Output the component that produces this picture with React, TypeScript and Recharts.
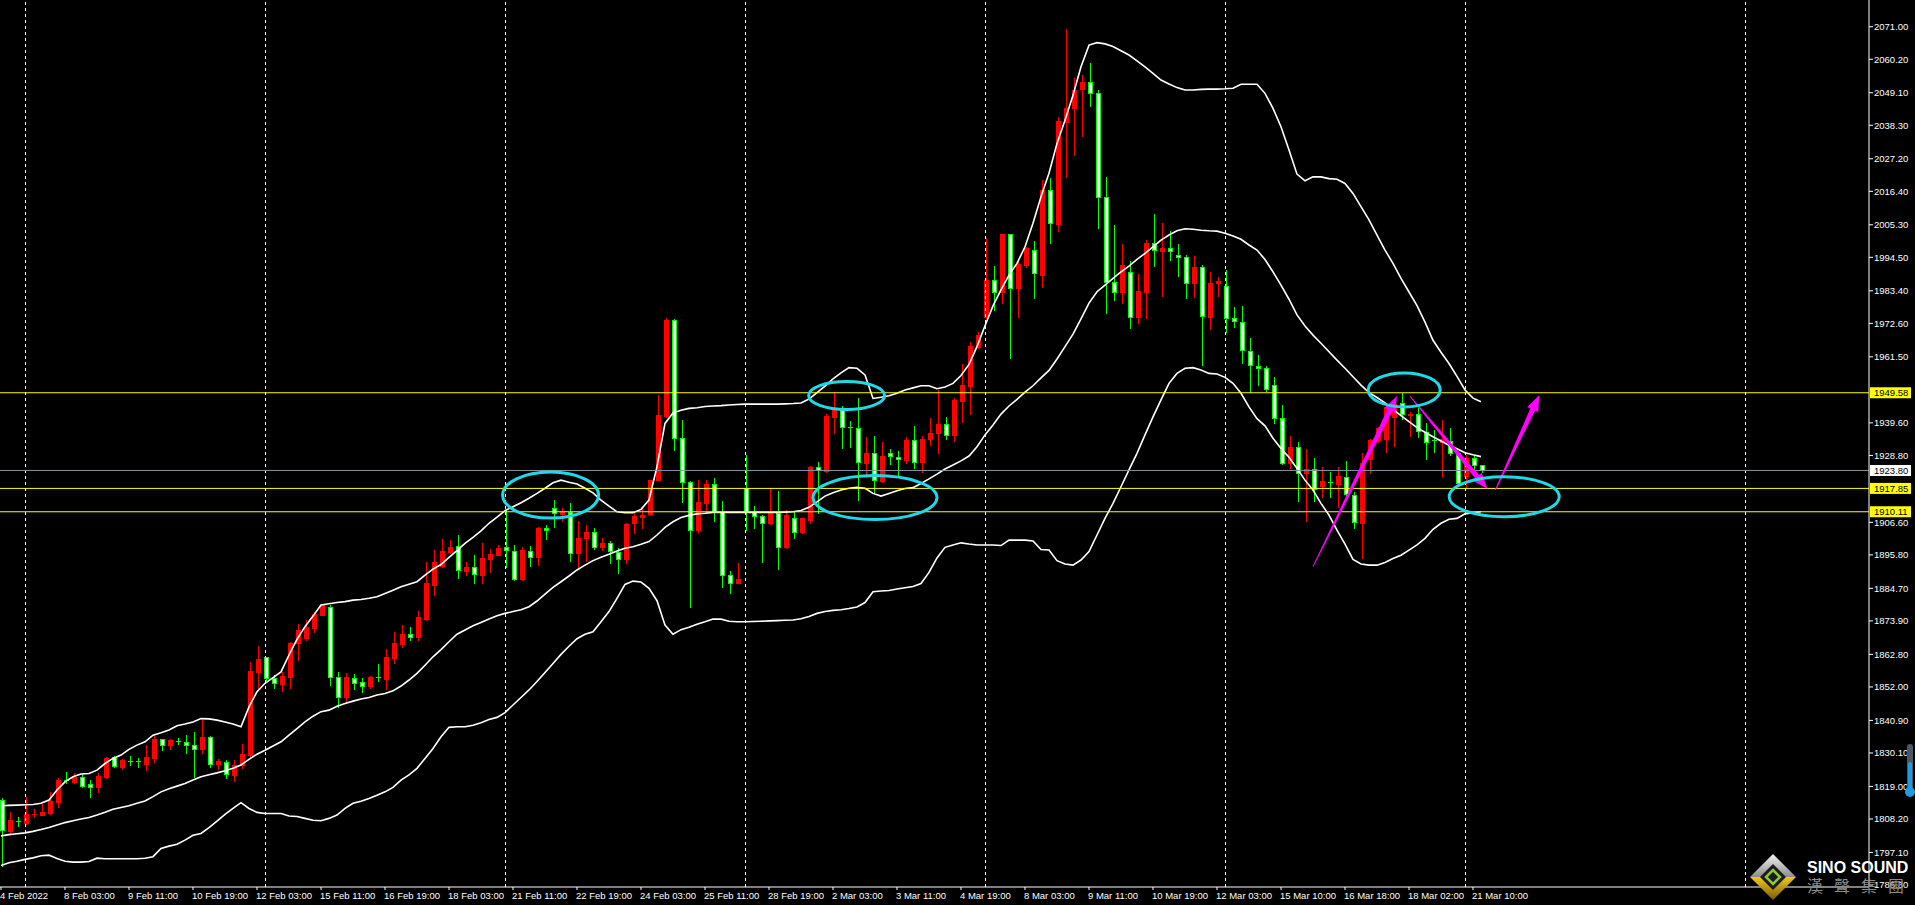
import React from 'react';
import { ComposedChart, Bar, Line, XAxis, YAxis, ReferenceLine, ReferenceDot } from 'recharts';

// H4 XAUUSD, 4 Feb 2022 .. 21 Mar 2022, one entry per bar
const TICK_BARS = [0, 8, 16, 24, 32, 40, 48, 56, 64, 72, 80, 88, 96, 104, 112, 120, 128, 136, 144, 152, 160, 168, 176, 184];
const TICK_LABELS = [
  '4 Feb 2022', '8 Feb 03:00', '9 Feb 11:00', '10 Feb 19:00', '12 Feb 03:00', '15 Feb 11:00',
  '16 Feb 19:00', '18 Feb 03:00', '21 Feb 11:00', '22 Feb 19:00', '24 Feb 03:00', '25 Feb 11:00',
  '28 Feb 19:00', '2 Mar 03:00', '3 Mar 11:00', '4 Mar 19:00', '8 Mar 03:00', '9 Mar 11:00',
  '10 Mar 19:00', '12 Mar 03:00', '15 Mar 10:00', '16 Mar 18:00', '18 Mar 02:00', '21 Mar 10:00',
];

const PRICE_TICKS = [
  2071.0, 2060.2, 2049.1, 2038.3, 2027.2, 2016.4, 2005.3, 1994.5, 1983.4, 1972.6, 1961.5,
  1939.6, 1928.8, 1906.6, 1895.8, 1884.7, 1873.9, 1862.8, 1852.0, 1840.9, 1830.1, 1819.0,
  1808.2, 1797.1, 1786.3,
];

const OPEN = [
  1814.5, 1804.2, 1807.6, 1806.9, 1809.7, 1809.6, 1810.3, 1813.9, 1821.0, 1820.5,
  1822.1, 1819.8, 1818.8, 1822.2, 1828.9, 1825.5, 1827.5, 1827.3, 1826.6, 1828.5,
  1834.6, 1832.7, 1834.1, 1833.9, 1832.9, 1831.3, 1835.5, 1826.4, 1827.0, 1822.9,
  1826.2, 1829.4, 1857.1, 1861.8, 1855.1, 1853.1, 1855.4, 1866.6, 1868.2, 1871.4,
  1875.9, 1878.6, 1855.2, 1848.8, 1855.1, 1853.6, 1852.3, 1855.2, 1854.6, 1861.5,
  1866.2, 1869.7, 1868.7, 1874.7, 1885.9, 1892.2, 1896.9, 1898.8, 1890.5, 1891.7,
  1889.2, 1894.6, 1895.8, 1898.3, 1897.2, 1887.8, 1897.2, 1895.0, 1904.6, 1911.5,
  1909.5, 1910.1, 1896.3, 1901.3, 1903.5, 1898.5, 1899.6, 1896.9, 1894.6, 1906.3,
  1908.5, 1909.2, 1920.8, 1941.9, 1973.7, 1934.5, 1920.1, 1904.0, 1913.1, 1919.2,
  1909.9, 1889.1, 1886.6, 1918.1, 1909.9, 1908.7, 1906.3, 1909.6, 1898.5, 1907.9,
  1903.3, 1907.4, 1924.8, 1923.7, 1941.6, 1943.8, 1938.1, 1937.8, 1926.4, 1929.5,
  1920.3, 1929.5, 1928.4, 1927.3, 1933.9, 1926.7, 1934.1, 1936.1, 1939.2, 1935.6,
  1946.9, 1951.8, 1964.9, 1974.8, 1987.0, 1983.1, 2002.2, 1984.2, 1991.9, 1996.9,
  1988.6, 2016.8, 2005.6, 2039.5, 2044.2, 2050.3, 2052.5, 2048.9, 2014.4, 1986.2,
  1983.1, 1989.7, 1974.6, 1983.1, 1999.1, 1996.7, 1997.7, 1995.2, 1994.5, 1985.9,
  1991.2, 1974.8, 1985.9, 1985.1, 1974.3, 1973.2, 1963.5, 1958.5, 1957.7, 1952.1,
  1941.1, 1926.2, 1931.5, 1922.8, 1924.2, 1918.8, 1920.1, 1919.3, 1921.7, 1915.7,
  1906.3, 1927.5, 1933.9, 1934.2, 1941.4, 1946.3, 1942.2, 1942.7, 1936.7, 1933.8,
  1933.3, 1933.6, 1929.5, 1921.9, 1928.1, 1925.5,
];

const HIGH = [
  1815.0, 1810.4, 1808.7, 1815.6, 1811.4, 1813.2, 1817.1, 1821.7, 1823.8, 1823.3,
  1823.2, 1821.1, 1823.3, 1828.9, 1829.2, 1828.1, 1829.1, 1828.3, 1832.7, 1836.0,
  1834.7, 1834.6, 1835.1, 1836.0, 1837.0, 1841.6, 1835.7, 1828.2, 1827.7, 1827.7,
  1833.0, 1860.4, 1865.7, 1862.0, 1855.9, 1857.0, 1867.0, 1872.9, 1874.2, 1876.9,
  1879.5, 1879.2, 1857.0, 1856.5, 1856.2, 1854.8, 1855.6, 1859.6, 1864.5, 1870.3,
  1872.5, 1871.8, 1877.2, 1893.5, 1897.4, 1901.0, 1900.7, 1902.4, 1893.4, 1895.8,
  1899.6, 1897.6, 1899.1, 1910.7, 1899.1, 1898.5, 1898.7, 1905.2, 1905.7, 1914.0,
  1911.2, 1913.1, 1907.0, 1905.7, 1904.6, 1901.3, 1900.5, 1898.0, 1906.5, 1909.6,
  1911.5, 1920.8, 1948.8, 1974.3, 1973.9, 1940.5, 1920.4, 1920.8, 1920.8, 1921.2,
  1913.8, 1890.6, 1893.2, 1928.9, 1912.0, 1909.0, 1917.9, 1917.1, 1910.7, 1910.1,
  1908.2, 1925.3, 1926.7, 1942.7, 1949.9, 1945.3, 1940.3, 1947.7, 1935.0, 1935.2,
  1933.1, 1930.8, 1930.4, 1935.0, 1938.7, 1935.2, 1941.2, 1950.5, 1941.4, 1947.7,
  1959.1, 1966.5, 1969.8, 2000.8, 1991.6, 2002.4, 2002.4, 1993.6, 1998.0, 1999.9,
  2020.3, 2020.7, 2040.9, 2070.1, 2053.9, 2055.0, 2058.9, 2050.0, 2021.0, 2005.2,
  1998.9, 1993.4, 1989.0, 2000.2, 2008.9, 2006.0, 2003.3, 1998.9, 1995.3, 1994.9,
  1992.0, 1989.5, 1987.9, 1990.3, 1977.9, 1978.4, 1967.6, 1962.1, 1958.4, 1954.9,
  1945.5, 1935.2, 1933.4, 1930.9, 1927.8, 1925.1, 1923.3, 1925.1, 1926.9, 1916.8,
  1929.5, 1934.1, 1938.1, 1946.1, 1947.2, 1949.6, 1943.3, 1944.4, 1939.7, 1937.2,
  1940.5, 1937.8, 1930.0, 1928.9, 1928.6, 1925.6,
];

const LOW = [
  1792.5, 1803.4, 1805.9, 1806.7, 1808.9, 1809.5, 1810.0, 1812.1, 1820.2, 1820.0,
  1818.9, 1815.6, 1817.2, 1821.9, 1825.5, 1824.9, 1826.1, 1825.5, 1824.4, 1827.2,
  1831.1, 1831.5, 1833.0, 1830.2, 1822.0, 1830.0, 1825.5, 1824.7, 1821.9, 1820.9,
  1825.0, 1828.9, 1851.5, 1854.3, 1851.5, 1850.7, 1851.5, 1860.9, 1867.5, 1870.3,
  1875.8, 1852.6, 1845.4, 1847.1, 1851.2, 1850.4, 1851.8, 1853.9, 1851.2, 1859.8,
  1865.3, 1867.6, 1867.6, 1874.2, 1882.5, 1891.9, 1896.5, 1888.3, 1889.1, 1886.6,
  1886.6, 1890.2, 1895.6, 1891.9, 1887.6, 1887.5, 1892.2, 1892.4, 1901.2, 1905.2,
  1907.1, 1893.9, 1891.7, 1893.9, 1897.7, 1897.4, 1893.2, 1889.7, 1893.2, 1902.9,
  1904.6, 1909.0, 1920.6, 1941.6, 1930.6, 1913.4, 1878.4, 1903.5, 1910.7, 1907.1,
  1885.3, 1883.0, 1886.4, 1904.0, 1904.6, 1893.5, 1906.0, 1891.0, 1898.0, 1901.3,
  1902.9, 1906.3, 1909.6, 1923.4, 1936.3, 1931.1, 1931.7, 1914.0, 1921.5, 1916.2,
  1920.1, 1926.1, 1921.7, 1926.4, 1924.5, 1923.4, 1932.2, 1929.7, 1934.1, 1933.7,
  1940.0, 1942.5, 1964.3, 1974.5, 1977.0, 1979.2, 1961.0, 1974.8, 1991.2, 1980.9,
  1984.8, 1999.1, 2003.3, 2021.0, 2028.4, 2034.7, 2044.8, 2004.1, 1975.9, 1980.3,
  1979.5, 1970.9, 1972.8, 1974.3, 1991.6, 1981.7, 1993.6, 1988.3, 1980.9, 1981.4,
  1958.8, 1970.6, 1981.7, 1969.8, 1971.3, 1959.5, 1949.9, 1952.1, 1950.2, 1939.7,
  1925.9, 1924.5, 1913.8, 1907.0, 1913.8, 1915.1, 1915.1, 1911.8, 1914.9, 1904.6,
  1894.9, 1923.1, 1933.3, 1930.0, 1931.9, 1940.8, 1935.2, 1935.0, 1927.5, 1930.0,
  1922.1, 1928.9, 1919.3, 1917.9, 1923.4, 1923.4,
];

const CLOSE = [
  1804.5, 1807.8, 1807.4, 1809.8, 1810.0, 1810.5, 1814.2, 1821.1, 1820.8, 1822.2,
  1819.3, 1818.9, 1822.4, 1828.3, 1825.9, 1827.8, 1827.3, 1827.1, 1828.9, 1834.6,
  1832.7, 1834.4, 1833.9, 1832.9, 1831.3, 1835.5, 1826.6, 1827.3, 1823.1, 1826.1,
  1829.7, 1857.3, 1861.3, 1854.8, 1853.2, 1855.6, 1866.6, 1871.0, 1871.8, 1876.2,
  1879.2, 1855.2, 1848.8, 1855.2, 1853.4, 1852.4, 1855.2, 1855.0, 1861.8, 1866.6,
  1869.5, 1868.7, 1875.1, 1886.5, 1893.4, 1897.1, 1898.5, 1890.7, 1891.8, 1889.3,
  1894.9, 1896.1, 1898.2, 1897.4, 1887.8, 1897.4, 1895.0, 1904.6, 1904.0, 1909.6,
  1910.1, 1896.3, 1901.3, 1903.5, 1898.3, 1899.6, 1897.1, 1894.6, 1906.0, 1908.7,
  1908.9, 1920.6, 1942.2, 1973.7, 1934.5, 1920.1, 1904.0, 1913.4, 1919.3, 1910.3,
  1889.1, 1886.6, 1887.8, 1909.9, 1908.7, 1906.3, 1909.6, 1898.5, 1909.0, 1903.3,
  1907.9, 1924.8, 1923.9, 1941.9, 1943.8, 1938.1, 1937.9, 1926.5, 1929.5, 1920.6,
  1928.6, 1928.6, 1927.5, 1933.9, 1926.7, 1934.1, 1936.1, 1939.2, 1935.6, 1947.2,
  1952.1, 1965.1, 1968.7, 1987.0, 1983.1, 2002.2, 1984.2, 1992.3, 1997.7, 1989.2,
  2016.8, 2005.8, 2039.7, 2044.2, 2050.0, 2052.6, 2048.9, 2014.4, 1986.4, 1983.1,
  1991.9, 1974.6, 1983.3, 1999.1, 1996.9, 1997.5, 1996.6, 1994.5, 1985.9, 1991.2,
  1975.0, 1985.9, 1986.6, 1974.3, 1973.4, 1963.8, 1958.8, 1957.7, 1950.7, 1941.1,
  1926.2, 1931.5, 1922.8, 1924.2, 1917.6, 1920.3, 1919.5, 1922.0, 1916.0, 1906.6,
  1926.2, 1933.9, 1937.8, 1945.0, 1945.9, 1942.5, 1942.7, 1936.9, 1933.3, 1933.6,
  1934.1, 1929.5, 1919.5, 1928.1, 1925.6, 1923.8,
];

// Bollinger bands
const BB_UPPER = [
  1812.6, 1812.7, 1812.8, 1812.9, 1813.0, 1813.4, 1814.5, 1817.8, 1820.5, 1822.2,
  1823.1, 1823.3, 1824.4, 1826.6, 1828.3, 1829.4, 1831.3, 1832.7, 1833.8, 1836.0,
  1836.8, 1837.7, 1839.1, 1839.7, 1840.4, 1841.5, 1841.4, 1841.0, 1840.4, 1839.7,
  1838.8, 1845.4, 1850.4, 1853.2, 1855.1, 1857.0, 1862.6, 1867.8, 1872.0, 1875.5,
  1879.2, 1879.6, 1880.0, 1880.3, 1880.8, 1881.0, 1881.4, 1881.9, 1883.0, 1884.1,
  1885.2, 1886.1, 1886.9, 1889.1, 1891.1, 1892.6, 1895.0, 1897.2, 1899.6, 1901.6,
  1903.8, 1906.3, 1908.3, 1910.5, 1911.8, 1913.1, 1914.6, 1916.2, 1917.9, 1919.7,
  1920.6, 1919.9, 1919.3, 1917.9, 1916.4, 1914.0, 1912.0, 1910.1, 1909.8, 1909.8,
  1910.9, 1914.0, 1925.1, 1939.4, 1942.9, 1943.8, 1944.4, 1944.6, 1945.0, 1945.2,
  1945.3, 1945.5, 1945.7, 1945.8, 1945.8, 1945.8, 1945.8, 1945.8, 1945.9, 1946.0,
  1946.2, 1947.5, 1949.6, 1951.8, 1954.2, 1956.2, 1957.9, 1957.7, 1955.5, 1947.7,
  1948.1, 1948.6, 1949.4, 1950.5, 1951.2, 1951.9, 1951.9, 1950.9, 1951.5, 1952.7,
  1955.3, 1959.0, 1964.9, 1971.8, 1978.4, 1983.7, 1988.6, 1992.5, 1998.0, 2005.8,
  2014.6, 2022.4, 2032.3, 2040.0, 2048.3, 2057.7, 2064.9, 2065.7, 2065.3, 2064.4,
  2063.0, 2061.6, 2059.7, 2057.7, 2055.5, 2053.3, 2052.0, 2050.8, 2050.0, 2050.0,
  2050.2, 2050.3, 2050.3, 2050.4, 2050.6, 2051.9, 2051.9, 2051.9, 2048.9, 2043.9,
  2037.8, 2030.1, 2022.1, 2019.9, 2021.2, 2021.2, 2020.6, 2020.4, 2019.0, 2015.7,
  2011.3, 2006.9, 2001.9, 1996.9, 1992.5, 1987.5, 1983.0, 1978.5, 1973.0, 1967.0,
  1963.0, 1959.3, 1955.0, 1950.5, 1947.8, 1946.6,
];

const BB_MIDDLE = [
  1802.6, 1803.0, 1803.3, 1803.6, 1804.1, 1804.7, 1805.4, 1806.2, 1807.0, 1807.6,
  1808.2, 1808.7, 1809.5, 1810.4, 1811.4, 1812.0, 1812.6, 1813.4, 1814.2, 1815.6,
  1817.2, 1818.2, 1819.1, 1820.0, 1821.1, 1822.2, 1822.9, 1823.5, 1824.2, 1825.0,
  1826.1, 1828.0, 1829.7, 1831.0, 1832.4, 1833.8, 1836.0, 1838.2, 1840.4, 1842.3,
  1843.8, 1844.3, 1845.6, 1846.5, 1847.3, 1848.0, 1848.5, 1849.3, 1849.8, 1850.7,
  1852.3, 1854.3, 1856.5, 1859.2, 1862.0, 1864.4, 1867.0, 1869.5, 1870.9, 1872.3,
  1873.4, 1874.5, 1875.6, 1876.4, 1877.0, 1877.6, 1878.6, 1880.5, 1882.8, 1885.0,
  1886.9, 1888.8, 1890.8, 1892.4, 1893.9, 1895.0, 1896.0, 1897.1, 1898.0, 1898.5,
  1899.3, 1900.2, 1902.4, 1904.9, 1906.8, 1908.2, 1908.9, 1909.4, 1909.6, 1909.9,
  1909.9, 1909.9, 1909.9, 1909.9, 1909.9, 1909.9, 1909.9, 1909.9, 1910.0, 1910.1,
  1910.5, 1911.6, 1913.4, 1915.3, 1916.4, 1917.3, 1917.9, 1918.2, 1917.9, 1916.2,
  1915.3, 1916.2, 1917.1, 1917.8, 1918.1, 1919.5, 1921.0, 1922.6, 1924.3, 1925.6,
  1927.0, 1928.6, 1931.7, 1935.6, 1938.9, 1942.5, 1945.2, 1947.4, 1949.8, 1951.9,
  1954.5, 1957.0, 1960.8, 1964.9, 1969.0, 1974.1, 1979.3, 1983.1, 1985.3, 1987.5,
  1989.7, 1991.6, 1993.8, 1995.8, 1998.0, 2000.2, 2001.9, 2003.3, 2004.0, 2003.8,
  2003.5, 2003.3, 2003.2, 2002.5, 2001.6, 2000.5, 1998.6, 1996.9, 1993.8, 1989.7,
  1985.3, 1980.6, 1975.4, 1971.7, 1968.7, 1966.0, 1963.2, 1960.4, 1957.7, 1954.9,
  1952.1, 1949.6, 1948.0, 1946.2, 1944.1, 1942.0, 1940.0, 1938.0, 1936.5, 1935.0,
  1933.6, 1932.2, 1931.0, 1929.7, 1929.0, 1928.4,
];

const BB_LOWER = [
  1792.8, 1793.7, 1794.2, 1794.8, 1795.3, 1796.0, 1796.2, 1795.1, 1794.2, 1793.9,
  1793.9, 1794.1, 1795.2, 1795.0, 1795.0, 1795.0, 1795.0, 1795.0, 1795.2, 1795.7,
  1798.4, 1799.2, 1799.8, 1801.2, 1802.8, 1803.4, 1805.3, 1807.5, 1809.7, 1811.7,
  1813.6, 1811.7, 1810.4, 1810.0, 1810.0, 1810.0, 1809.2, 1809.0, 1808.4, 1807.8,
  1807.6, 1808.4, 1809.5, 1811.7, 1813.4, 1814.1, 1815.0, 1816.1, 1817.2, 1818.7,
  1821.1, 1822.8, 1825.0, 1828.3, 1831.6, 1835.5, 1838.6, 1838.8, 1838.8, 1839.3,
  1840.1, 1841.2, 1841.9, 1843.5, 1846.0, 1848.5, 1851.0, 1853.8, 1856.8, 1859.8,
  1862.8, 1865.5, 1868.0, 1869.5, 1870.3, 1873.6, 1877.0, 1881.4, 1886.0, 1887.1,
  1886.8, 1884.7, 1880.6, 1872.5, 1869.5, 1871.0, 1871.8, 1872.8, 1873.6, 1874.5,
  1874.5, 1873.8, 1873.6, 1873.6, 1873.7, 1873.8, 1873.9, 1874.0, 1874.1, 1874.2,
  1874.6, 1875.4, 1876.4, 1877.0, 1877.4, 1877.6, 1878.0, 1878.5, 1880.0, 1883.6,
  1883.8, 1884.0, 1884.5, 1884.9, 1885.3, 1886.3, 1890.0, 1894.8, 1898.3, 1899.1,
  1899.8, 1899.4, 1899.1, 1899.1, 1899.1, 1898.9, 1900.7, 1900.7, 1900.7, 1900.4,
  1897.6, 1897.4, 1893.9, 1892.8, 1892.4, 1894.1, 1896.9, 1902.4, 1907.9, 1912.9,
  1918.4, 1924.0, 1929.5, 1935.6, 1941.6, 1947.2, 1952.7, 1956.0, 1957.7, 1957.9,
  1957.1, 1956.0, 1955.8, 1954.7, 1952.7, 1949.4, 1944.9, 1941.0, 1938.6, 1934.5,
  1931.1, 1928.2, 1924.5, 1920.6, 1917.3, 1912.9, 1909.0, 1904.0, 1899.4, 1894.3,
  1892.8, 1892.4, 1892.4, 1893.3, 1894.6, 1895.7, 1897.4, 1899.1, 1901.3, 1904.3,
  1906.3, 1907.6, 1907.9, 1909.4, 1909.8, 1910.1,
];

// horizontal levels drawn on the chart
const YELLOW_LEVELS = [1949.58, 1917.85, 1910.11];
const LAST_PRICE = 1923.8;

// week separators (bar index)
const WEEK_BARS = [3, 33, 63, 93, 123, 153, 183, 218];

// annotations in chart units (bar index, price)
const RING_BARS = [68.7, 105.7, 109.25, 175.4, 187.9];
const RING_PRICES = [1915.65, 1948.67, 1914.8, 1950.5, 1915.1];
const ARROW_FROM = [[164.0, 1891.9], [176.1, 1948.5], [186.8, 1917.3]];
const ARROW_TO = [[174.5, 1948.5], [185.8, 1917.7], [192.3, 1948.8]];

const SLOTS = 234;
const Y_MIN = 1785.64;
const Y_MAX = 2079.86;

const FONT = '"Liberation Sans", Arial, sans-serif';
const UP = '#ff0000';
const DOWN_EDGE = '#00ff00';
const DOWN_FILL = '#ffffff';
const CYAN = '#1fd9e8';
const MAGENTA = '#ff00ff';
const RING_RADII = [[48, 23], [38, 14], [62, 22], [36, 17], [55, 20]];

const data = Array.from({ length: SLOTS }, (_, i) =>
  i < OPEN.length
    ? {
        i,
        hl: [LOW[i], HIGH[i]],
        o: OPEN[i],
        h: HIGH[i],
        l: LOW[i],
        c: CLOSE[i],
        up: BB_UPPER[i],
        mid: BB_MIDDLE[i],
        lo: BB_LOWER[i],
      }
    : { i, hl: null, up: null, mid: null, lo: null }
);

const Candle = (props: any) => {
  const { x, y, width, height, payload } = props;
  if (!payload || payload.o == null || !isFinite(y) || !isFinite(height)) return null;
  const top = Math.min(y, y + height);
  const span = Math.abs(height);
  const k = span / (payload.h - payload.l);
  const py = (v: number) => top + (payload.h - v) * k;
  const cx = Math.round(x + width / 2);
  const bull = payload.c > payload.o;
  const color = bull ? UP : DOWN_EDGE;
  const bTop = Math.round(py(Math.max(payload.o, payload.c)));
  const bBot = Math.round(py(Math.min(payload.o, payload.c)));
  const wTop = Math.round(top);
  const wBot = Math.round(top + span);
  return (
    <g>
      <line x1={cx + 0.5} x2={cx + 0.5} y1={wTop} y2={wBot + 1} stroke={color} strokeWidth={1} />
      {bull ? (
        <rect x={cx - 2} y={bTop} width={5} height={Math.max(bBot - bTop + 1, 1)} fill={UP} />
      ) : bBot - bTop < 2 ? (
        <line x1={cx - 2} x2={cx + 3} y1={bTop + 0.5} y2={bTop + 0.5} stroke={color} strokeWidth={1} />
      ) : (
        <rect x={cx - 1.5} y={bTop + 0.5} width={4} height={bBot - bTop} fill={DOWN_FILL} stroke={color} strokeWidth={1} />
      )}
    </g>
  );
};

const TimeTick = (props: any) => {
  const { x, y, payload } = props;
  const k = TICK_BARS.indexOf(payload.value);
  if (k < 0) return null;
  return (
    <text x={x - 1} y={y} dy="0.71em" fill="#ffffff" fontSize={9.5} fontFamily={FONT}>
      {TICK_LABELS[k]}
    </text>
  );
};

const priceTag = (value: number, bg: string) => (props: any) => {
  const vb = props.viewBox || {};
  const right = (vb.x || 0) + (vb.width || 0);
  const y = vb.y || 0;
  return (
    <g>
      <rect x={right + 1} y={y - 5.5} width={41} height={11} fill={bg} />
      <text x={right + 5} y={y} dy="0.355em" fontSize={9.5} fontFamily={FONT} fill="#000000">
        {value.toFixed(2)}
      </text>
    </g>
  );
};

const arrowShape = (p: any) => {
  const { x1, y1, x2, y2 } = p;
  if (![x1, y1, x2, y2].every((v) => isFinite(v))) return null;
  const dx = x2 - x1;
  const dy = y2 - y1;
  const len = Math.hypot(dx, dy) || 1;
  const ux = dx / len;
  const uy = dy / len;
  const nx = -uy;
  const ny = ux;
  const headL = 16;
  const headW = 6;
  const neckW = 2.6;
  const tailW = 0.5;
  const bx = x2 - ux * headL;
  const by = y2 - uy * headL;
  const pts = [
    [x1 + nx * tailW, y1 + ny * tailW],
    [bx + nx * neckW, by + ny * neckW],
    [bx + nx * headW, by + ny * headW],
    [x2, y2],
    [bx - nx * headW, by - ny * headW],
    [bx - nx * neckW, by - ny * neckW],
    [x1 - nx * tailW, y1 - ny * tailW],
  ];
  return <polygon points={pts.map((q) => q.join(',')).join(' ')} fill={MAGENTA} />;
};

export default function App() {
  return (
    <div style={{ position: 'fixed', left: 0, top: 0, width: 1915, height: 905, background: '#000', overflow: 'hidden' }}>
      <div style={{ position: 'absolute', left: -3, top: 0 }}>
        <ComposedChart width={1919} height={905} data={data} margin={{ top: 0, right: 0, bottom: 0, left: 0 }}>
          <XAxis xAxisId="c" dataKey="i" type="category" hide />
          <XAxis
            dataKey="i"
            type="number"
            domain={[-0.5, SLOTS - 0.5]}
            allowDataOverflow
            ticks={TICK_BARS}
            interval={0}
            height={18}
            axisLine={{ stroke: '#ffffff' }}
            tickLine={{ stroke: '#ffffff' }}
            tickSize={3}
            tickMargin={2}
            tick={(p: any) => <TimeTick {...p} />}
          />
          <YAxis
            orientation="right"
            type="number"
            domain={[Y_MIN, Y_MAX]}
            allowDataOverflow
            ticks={PRICE_TICKS}
            interval={0}
            width={47}
            axisLine={{ stroke: '#ffffff' }}
            tickLine={{ stroke: '#ffffff' }}
            tickSize={4}
            tickMargin={1}
            tick={{ fill: '#ffffff', fontSize: 9.5, fontFamily: FONT }}
            tickFormatter={(v: number) => v.toFixed(2)}
          />

          {WEEK_BARS.map((b) => (
            <ReferenceLine key={'w' + b} x={b + 0.0625} stroke="#ffffff" strokeDasharray="3 3" strokeWidth={1} />
          ))}

          <Bar xAxisId="c" dataKey="hl" barSize={5} shape={(p: any) => <Candle {...p} />} isAnimationActive={false} />

          <Line xAxisId="c" type="linear" dataKey="up" stroke="#ffffff" strokeWidth={1.6} dot={false} activeDot={false} isAnimationActive={false} />
          <Line xAxisId="c" type="linear" dataKey="mid" stroke="#ffffff" strokeWidth={1.6} dot={false} activeDot={false} isAnimationActive={false} />
          <Line xAxisId="c" type="linear" dataKey="lo" stroke="#ffffff" strokeWidth={1.6} dot={false} activeDot={false} isAnimationActive={false} />

          <ReferenceLine y={LAST_PRICE} stroke="#8493a3" strokeWidth={1} label={priceTag(LAST_PRICE, '#ffffff')} />
          {YELLOW_LEVELS.map((lv) => (
            <ReferenceLine key={'y' + lv} y={lv} stroke="#ffff00" strokeWidth={1} label={priceTag(lv, '#ffff00')} />
          ))}

          {RING_BARS.map((b, k) => (
            <ReferenceDot
              key={'r' + k}
              x={b}
              y={RING_PRICES[k]}
              r={2}
              shape={(p: any) => (
                <ellipse cx={p.cx} cy={p.cy} rx={RING_RADII[k][0]} ry={RING_RADII[k][1]} fill="none" stroke={CYAN} strokeWidth={3} />
              )}
            />
          ))}

          {ARROW_FROM.map((from, k) => (
            <ReferenceLine
              key={'a' + k}
              segment={[
                { x: from[0], y: from[1] },
                { x: ARROW_TO[k][0], y: ARROW_TO[k][1] },
              ]}
              shape={arrowShape}
            />
          ))}
        </ComposedChart>
      </div>

      {/* scale slider on the price axis */}
      <div style={{ position: 'absolute', left: 1907, top: 744, width: 6, height: 52, background: '#4a5866', borderRadius: 3 }} />
      <div style={{ position: 'absolute', left: 1908, top: 762, width: 4, height: 30, background: '#1e9be0', borderRadius: 2 }} />
      <div style={{ position: 'absolute', left: 1905, top: 787, width: 10, height: 10, background: '#1e9be0', borderRadius: '50%' }} />

      {/* watermark */}
      <svg width={50} height={50} style={{ position: 'absolute', left: 1748, top: 852 }}>
        <defs>
          <linearGradient id="emb" x1="0" y1="0" x2="0" y2="1">
            <stop offset="0" stopColor="#f4f4f4" />
            <stop offset="0.5" stopColor="#8c8c8c" />
            <stop offset="0.5" stopColor="#f0c81e" />
            <stop offset="1" stopColor="#7a5a06" />
          </linearGradient>
        </defs>
        <polygon points="25,2 48,25 25,48 2,25" fill="url(#emb)" />
        <polygon points="25,12 38,25 25,38 12,25" fill="#1c1c1c" />
        <polygon points="25,18 32,25 25,32 18,25" fill="none" stroke="#8cc63f" strokeWidth={2.5} />
      </svg>
      <div style={{ position: 'absolute', left: 1807, top: 860, font: `bold 16px ${FONT}`, lineHeight: '16px', color: '#ffffff', whiteSpace: 'nowrap' }}>
        SINO SOUND
      </div>
      <div style={{ position: 'absolute', left: 1807, top: 877, font: '16px "Noto Sans CJK TC"', lineHeight: '16px', color: '#8c8c8c', letterSpacing: '11px', whiteSpace: 'nowrap' }}>
        漢聲集團
      </div>
    </div>
  );
}
